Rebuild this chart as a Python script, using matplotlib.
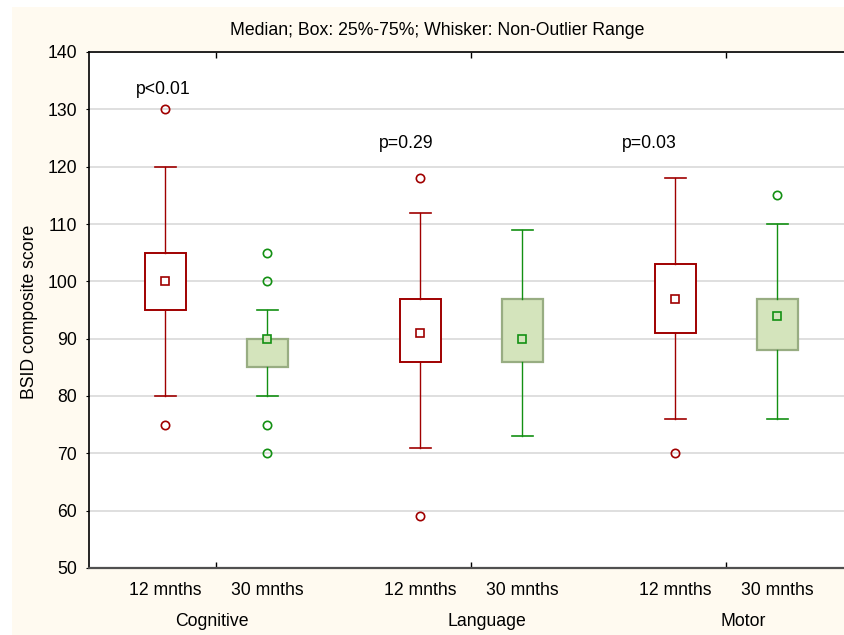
import matplotlib
matplotlib.use('Agg')
import matplotlib.pyplot as plt
from matplotlib.patches import Rectangle
import numpy as np

plt.rcParams['font.family'] = ['Liberation Sans', 'DejaVu Sans']

# data
domains = ['Cognitive', 'Language', 'Motor']
ages = ['12 mnths', '30 mnths']
medians = [[100, 90], [91, 90], [97, 94]]
q1 = [[95, 85], [86, 86], [91, 88]]
q3 = [[105, 90], [97, 97], [103, 97]]
whislo = [[80, 80], [71, 73], [76, 76]]
whishi = [[120, 95], [112, 109], [118, 110]]
outliers = [[[130, 75], [105, 100, 75, 70]],
            [[118, 59], []],
            [[70], [115]]]
pvalues = ['p<0.01', 'p=0.29', 'p=0.03']

red = '#A00000'
green = '#139013'
green_fill = '#D4E4BC'
green_edge = '#98AD82'
cream = '#FFFAF0'
fs = 12.7

fig = plt.figure(figsize=(8.45, 6.35), dpi=100)
fig.patch.set_facecolor('white')
fig.patches.append(Rectangle((12 / 845, 0), 1, 628 / 635, transform=fig.transFigure,
                             facecolor=cream, edgecolor='none', zorder=-10))

ax = fig.add_axes([89 / 845, 67 / 635, 765 / 845, 516 / 635])
ax.set_zorder(1)
ax.set_facecolor('white')

offset = 0.2
for g in range(len(domains)):
    for a in range(len(ages)):
        pos = g - offset if a == 0 else g + offset
        stats = [{'med': medians[g][a], 'q1': q1[g][a], 'q3': q3[g][a],
                  'whislo': whislo[g][a], 'whishi': whishi[g][a],
                  'fliers': outliers[g][a]}]
        if a == 0:
            col = red
            boxprops = dict(facecolor='white', edgecolor=red, linewidth=1.4)
            mface = 'white'
            medge = red
        else:
            col = green
            boxprops = dict(facecolor=green_fill, edgecolor=green_edge, linewidth=1.6)
            mface = green_fill
            medge = green
        ax.bxp(stats, positions=[pos], widths=0.157, capwidths=[0.08],
               patch_artist=True, boxprops=boxprops,
               whiskerprops=dict(color=col, linewidth=1.0),
               capprops=dict(color=col, linewidth=1.2),
               medianprops=dict(linewidth=0),
               flierprops=dict(marker='o', markersize=6, markerfacecolor='none',
                               markeredgecolor=col, markeredgewidth=1.2),
               manage_ticks=False, zorder=3)
        ax.plot([pos], [medians[g][a]], marker='s', markersize=6.3,
                markerfacecolor=mface, markeredgecolor=medge,
                markeredgewidth=1.2, linestyle='none', zorder=4)

# p-value labels
p_x = [-0.21, 0.743, 1.696]
p_y = [133.4, 124.0, 124.1]
for i, p in enumerate(pvalues):
    ax.text(p_x[i], p_y[i], p, ha='center', va='center', fontsize=fs)

ax.set_xlim(-0.5, len(domains) - 0.5)
ax.set_ylim(50, 140)
ax.set_yticks(np.arange(50, 141, 10))
ax.grid(axis='y', color='#D9D9D9', linewidth=1.2, zorder=0)
ax.set_axisbelow(True)

# group ticks at centres, sub-labels as minor ticks
centers = np.arange(len(domains))
ax.set_xticks(centers)
ax.set_xticklabels([''] * len(domains))
sub_pos = []
sub_lab = []
for g in range(len(domains)):
    sub_pos += [g - offset, g + offset]
    sub_lab += ages
ax.set_xticks(sub_pos, minor=True)
ax.set_xticklabels(sub_lab, minor=True, fontsize=fs)
ax.tick_params(axis='x', which='major', direction='in', length=4, top=True, width=1)
ax.tick_params(axis='x', which='minor', length=0, pad=10)
ax.tick_params(axis='y', direction='out', length=2.5, labelsize=fs, pad=6)

label_shift = [-0.02, 0.06, 0.065]
for g, d in enumerate(domains):
    ax.text(g + label_shift[g], -0.103, d, transform=ax.get_xaxis_transform(),
            ha='center', va='center', fontsize=fs)

for s in ['left', 'top']:
    ax.spines[s].set_color('black')
    ax.spines[s].set_linewidth(1.2)
ax.spines['bottom'].set_color('#505050')
ax.spines['bottom'].set_linewidth(1.6)

fig.text(30 / 845, 1 - 312 / 635, 'BSID composite score', rotation=90,
         ha='center', va='center', fontsize=fs)
fig.text(437.5 / 845, 1 - 30.5 / 635, 'Median; Box: 25%-75%; Whisker: Non-Outlier Range',
         ha='center', va='center', fontsize=fs)

fig.savefig('out.png', dpi=100, facecolor=fig.get_facecolor())
